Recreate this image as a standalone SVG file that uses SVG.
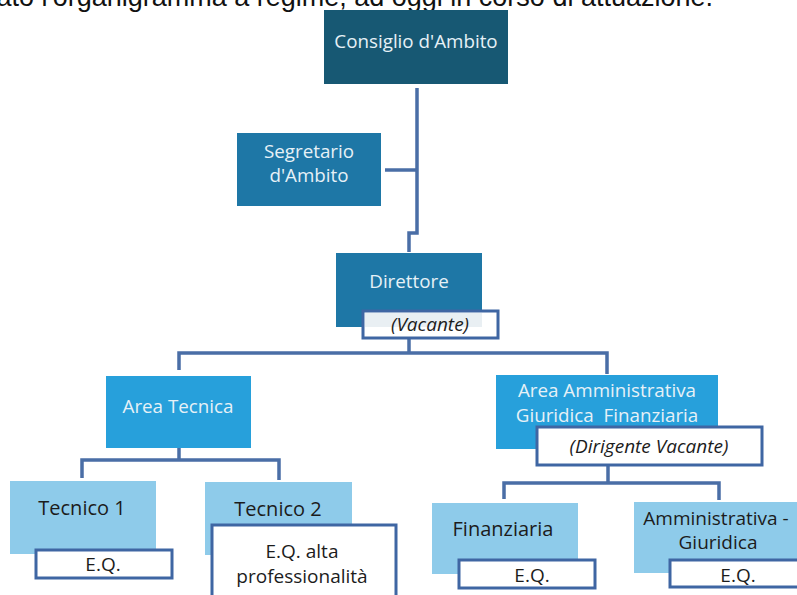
<svg xmlns="http://www.w3.org/2000/svg" width="797" height="595" viewBox="0 0 797 595">
<style>
  .lbl { font-family: "Open Sans", "Liberation Sans", sans-serif; text-anchor: middle; }
  .w { fill: #e6f1f7; font-size: 18.8px; }
  .d { fill: #1c1c1c; font-size: 20px; }
  .it { fill: #1c1c1c; font-size: 19px; font-style: italic; }
  .eq { fill: #1c1c1c; font-size: 19px; }
  .sub { fill: #ffffff; stroke: #3f66a3; stroke-width: 3; }
  .conn { fill: none; stroke: #4a6ea6; stroke-width: 3.5; stroke-linejoin: miter; }
  .cap { font-family: "Liberation Sans", Arial, sans-serif; font-size: 27px; fill: #111111; text-anchor: end; }
</style>
<rect width="797" height="595" fill="#ffffff"/>
<text class="cap" x="713" y="6">ato l'organigramma a regime, ad oggi in corso di attuazione.</text>

<g id="connectors" class="conn">
  <path d="M417 88 V233 H409 V252"/>
  <path d="M385 170 H417"/>
  <path d="M409 338 V353"/>
  <path d="M179 370 V353 H607 V374"/>
  <path d="M179 448 V460"/>
  <path d="M82 478 V460 H279 V480"/>
  <path d="M608 465 V483"/>
  <path d="M504 499 V483 H719 V500"/>
</g>

<g id="consiglio">
  <rect x="324" y="10" width="184" height="74" fill="#175873"/>
  <text class="lbl w" x="416" y="48">Consiglio d'Ambito</text>
</g>

<g id="segretario">
  <rect x="237" y="133" width="144" height="73" fill="#1e77a6"/>
  <text class="lbl w" x="309" y="158">Segretario</text>
  <text class="lbl w" x="309" y="182">d'Ambito</text>
</g>

<g id="direttore">
  <rect x="336" y="253" width="146" height="74" fill="#1e77a6"/>
  <text class="lbl w" x="409" y="288">Direttore</text>
  <rect class="sub" x="363" y="311" width="135" height="27"/>
  <rect x="365" y="313" width="117" height="14" fill="#e9eff3"/>
  <text class="lbl it" x="430" y="331">(Vacante)</text>
</g>

<g id="area-tecnica">
  <rect x="106" y="376" width="145" height="72" fill="#27a0db"/>
  <text class="lbl w" x="178" y="413">Area Tecnica</text>
</g>

<g id="area-amministrativa">
  <rect x="496" y="375" width="222" height="74" fill="#27a0db"/>
  <text class="lbl w" x="607" y="397">Area Amministrativa</text>
  <text class="lbl w" x="607" y="422" xml:space="preserve">Giuridica  Finanziaria</text>
  <rect class="sub" x="537" y="427" width="225" height="38"/>
  <text class="lbl it" x="649" y="453">(Dirigente Vacante)</text>
</g>

<g id="tecnico-1">
  <rect x="10" y="481" width="146" height="73" fill="#8ecbea"/>
  <text class="lbl d" x="82" y="515">Tecnico 1</text>
  <rect class="sub" x="36" y="550" width="136" height="28"/>
  <text class="lbl eq" x="103" y="571">E.Q.</text>
</g>

<g id="tecnico-2">
  <rect x="205" y="482" width="147" height="73" fill="#8ecbea"/>
  <text class="lbl d" x="278" y="516">Tecnico 2</text>
  <rect class="sub" x="212" y="525" width="184" height="80"/>
  <text class="lbl eq" x="302" y="558">E.Q. alta</text>
  <text class="lbl eq" x="302" y="583">professionalità</text>
</g>

<g id="finanziaria">
  <rect x="432" y="503" width="146" height="71" fill="#8ecbea"/>
  <text class="lbl d" x="503" y="536">Finanziaria</text>
  <rect class="sub" x="459" y="560" width="136" height="28"/>
  <text class="lbl eq" x="532" y="582">E.Q.</text>
</g>

<g id="amministrativa-giuridica">
  <rect x="634" y="502" width="180" height="71" fill="#8ecbea"/>
  <text class="lbl d" x="716" y="525" style="font-size:19px">Amministrativa -</text>
  <text class="lbl d" x="718" y="549" style="font-size:19px">Giuridica</text>
  <rect class="sub" x="670" y="560" width="140" height="27"/>
  <text class="lbl eq" x="738" y="582">E.Q.</text>
</g>
</svg>
